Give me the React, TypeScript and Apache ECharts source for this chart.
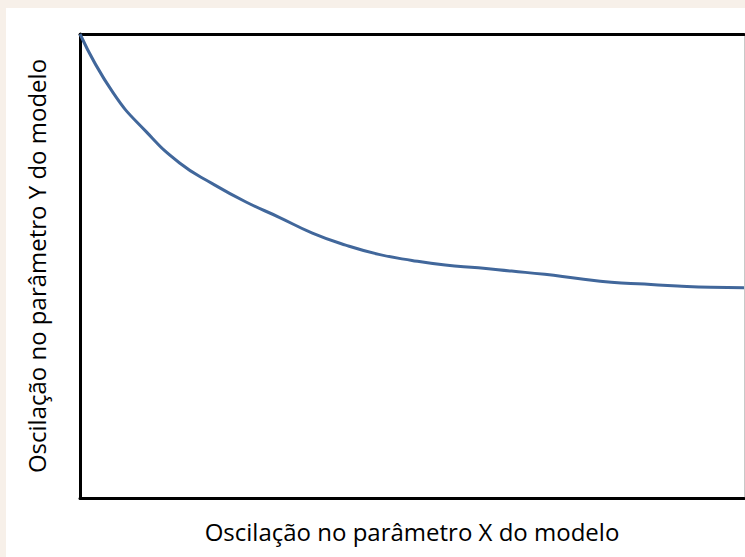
import React, { useEffect, useRef } from "react";
import * as echarts from "echarts";

const xValues = [0, 5, 10, 15, 20, 25, 30, 35, 40, 45, 50, 55, 60, 65, 70, 75, 80, 85, 90, 95, 100];
const yValues = [100, 87.3, 78.9, 72.2, 67.7, 63.8, 60.5, 57.1, 54.5, 52.5, 51.2, 50.2, 49.6, 48.9, 48.2, 47.3, 46.5, 46.1, 45.7, 45.4, 45.3];
const xTitle = "Oscilação no parâmetro X do modelo";
const yTitle = "Oscilação no parâmetro Y do modelo";

export default function App() {
  const ref = useRef<HTMLDivElement>(null);
  useEffect(() => {
    document.body.style.margin = "0";
    const chart = echarts.init(ref.current!, null, { renderer: "svg" });
    const font = "'Open Sans', sans-serif";
    const hidden = { axisTick: { show: false }, axisLabel: { show: false }, splitLine: { show: false } };
    chart.setOption({
      animation: false,
      backgroundColor: "#ffffff",
      graphic: [
        { type: "rect", left: 0, top: 0, shape: { width: 745, height: 8 }, style: { fill: "#f7f0e9" }, silent: true },
        { type: "rect", left: 0, top: 0, shape: { width: 6, height: 557 }, style: { fill: "#f7f0e9" }, silent: true },
      ],
      grid: { left: 80, top: 34, right: 1, bottom: 59 },
      xAxis: [
        {
          type: "value", min: 0, max: 100, position: "bottom",
          name: xTitle, nameLocation: "middle", nameGap: 21,
          nameTextStyle: { fontFamily: font, fontSize: 24, color: "#000" },
          axisLine: { show: true, onZero: false, lineStyle: { color: "#000", width: 3 } },
          ...hidden,
        },
        {
          type: "value", min: 0, max: 100, position: "top",
          axisLine: { show: true, onZero: false, lineStyle: { color: "#000", width: 3 } },
          ...hidden,
        },
      ],
      yAxis: [
        {
          type: "value", min: 0, max: 100, position: "left",
          name: yTitle, nameLocation: "middle", nameGap: 32, nameRotate: 90,
          nameTextStyle: { fontFamily: font, fontSize: 24, color: "#000" },
          axisLine: { show: true, onZero: false, lineStyle: { color: "#000", width: 3 } },
          ...hidden,
        },
        {
          type: "value", min: 0, max: 100, position: "right",
          axisLine: { show: true, onZero: false, lineStyle: { color: "#c8c8c8", width: 1 } },
          ...hidden,
        },
      ],
      series: [
        {
          type: "line",
          smooth: 0.5,
          showSymbol: false,
          data: xValues.map((x, i) => [x, yValues[i]]),
          lineStyle: { color: "#41679b", width: 3 },
        },
      ],
    });
    return () => chart.dispose();
  }, []);
  return <div ref={ref} style={{ width: 745, height: 557 }} />;
}
